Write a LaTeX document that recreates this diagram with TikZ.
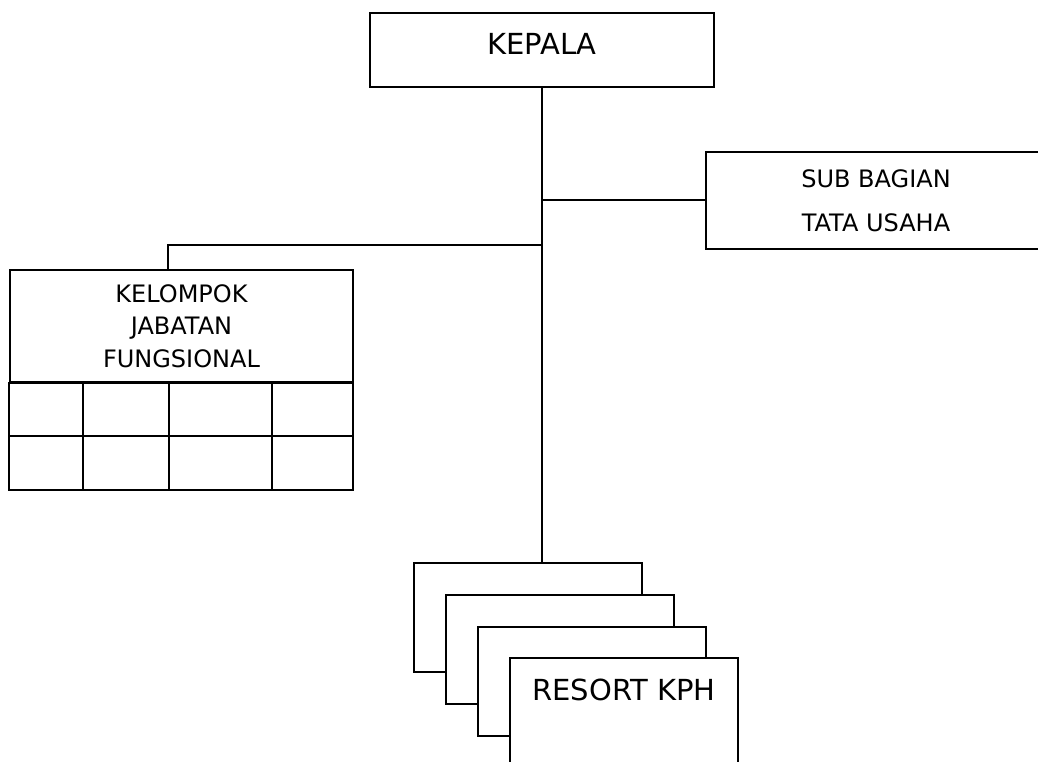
\documentclass[tikz,border=0pt]{standalone}
\usepackage{fontspec}
\setmainfont{DejaVu Sans}
\usetikzlibrary{positioning}
\begin{document}
\begin{tikzpicture}[x=1pt, y=-1pt, line width=2pt,
  every node/.style={inner sep=0pt},
  unitbox/.style={draw, fill=white, align=center},
  bigtext/.style={font=\fontsize{29}{30}\selectfont},
  smalltext/.style={font=\fontsize{24}{32.5}\selectfont}]
  \useasboundingbox (0,0) rectangle (1038,762);
  \clip (0,0) rectangle (1038,762);
  % boxes
  \node [unitbox, bigtext, minimum width=344, minimum height=74, text depth=12] (kepala) at (542,50) {KEPALA};
  \node [unitbox, font=\fontsize{24}{44}\selectfont, minimum width=340, minimum height=97] (sub) at (876,200.5) {SUB BAGIAN\\TATA USAHA};
  \node [unitbox, smalltext, minimum width=343, minimum height=112] (kelompok) at (181.5,326) {KELOMPOK\\JABATAN\\FUNGSIONAL};
  \node [unitbox, minimum width=228, minimum height=109] (r1) at (528,617.5) {};
  \node [unitbox, minimum width=228, minimum height=109] (r2) at (560,649) {};
  \node [unitbox, minimum width=228, minimum height=109] (r3) at (592,681.5) {};
  \node [unitbox, bigtext, minimum width=228, minimum height=109, text depth=45] (r4) at (624,712.5) {RESORT KPH};
  % grid under kelompok
  \draw (kelompok.south west) rectangle (353,490);
  \draw (10,436) -- (353,436);
  \foreach \x in {83,169,272}
    \draw (\x,382) -- (\x,490);
  % connectors
  \coordinate (kj) at (168,245);
  \draw (kepala.south) -- (kepala.south |- r1.north);
  \draw (sub.west) -- (sub.west -| kepala.south);
  \draw (kepala.south |- kj) -- (kj) -- (kj |- kelompok.north);
\end{tikzpicture}
\end{document}
